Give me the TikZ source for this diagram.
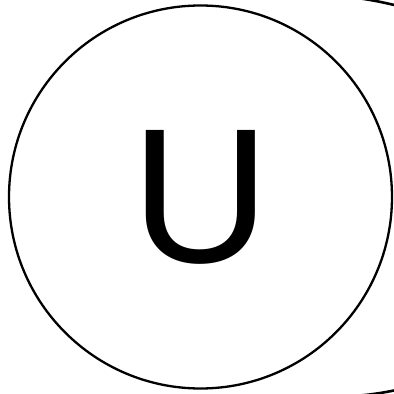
\documentclass[tikz,border=0pt]{standalone}
\usepackage{fontspec}
\setsansfont{Liberation Sans}
\usepackage{tikz}
\usetikzlibrary{positioning}

\begin{document}
\begin{tikzpicture}[
    x=1pt, y=1pt,
    every node/.style={font=\sffamily},
    state/.style={circle, draw=black, line width=2.3pt, minimum size=383pt, inner sep=0pt,
                  font=\fontsize{192}{194}\selectfont\sffamily},
    edge/.style={line width=2.6pt}
]
    % --- frame ---
    \useasboundingbox (0,0) rectangle (394,394);
    \clip (0,0) rectangle (394,394);

    % --- state ---
    \node[state] (u) at (200.5,197) {U};

    % --- edges leaving the frame ---
    \coordinate (t1) at (340,398);
    \coordinate (t2) at (402,387.1);
    \coordinate (b1) at (345,-2.7);
    \coordinate (b2) at (402,5.1);
    \draw[edge] (t1) to[bend left=4] (t2);
    \draw[edge] (b1) to[bend right=4] (b2);
\end{tikzpicture}
\end{document}
